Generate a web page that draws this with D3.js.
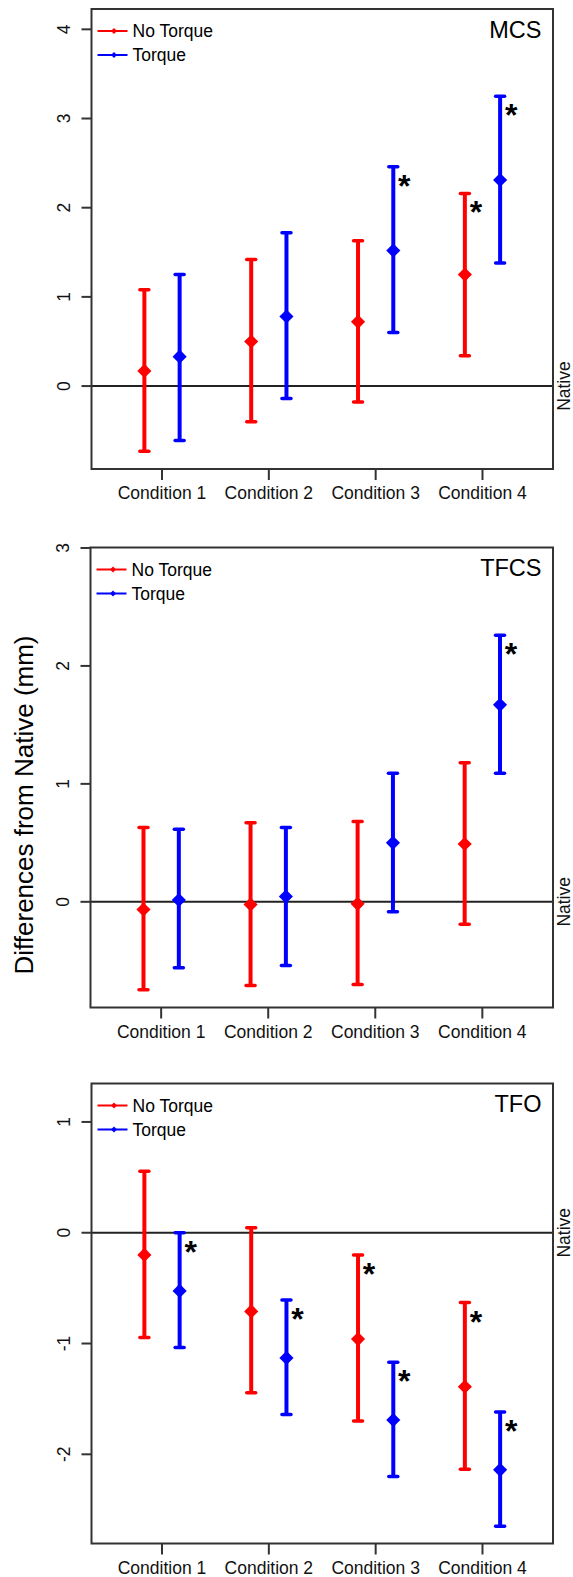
<!DOCTYPE html>
<html lang="en">
<head>
    <meta charset="UTF-8">
    <title>Differences from Native: MCS, TFCS, TFO</title>
    <script src="https://d3js.org/d3.v7.min.js"></script>
    <style>
        body { margin: 0; background: #fff; }
        svg { display: block; font-family: "Liberation Sans", Arial, sans-serif; }
        .box { fill: none; stroke: #333; stroke-width: 2; }
        .tick-line { stroke: #333; stroke-width: 2; }
        .tick-label { font-size: 17.5px; fill: #111; }
    </style>
</head>
<body>
    <div id="chart"></div>
    <script>
        // categories and labels
        const conditions = ["Condition 1", "Condition 2", "Condition 3", "Condition 4"];
        const seriesNames = ["No Torque", "Torque"];
        const seriesColors = ["#ff0000", "#0000ff"];
        const panelNames = ["MCS", "TFCS", "TFO"];

        // y tick labels per panel
        const mcsTicks = [0, 1, 2, 3, 4];
        const tfcsTicks = [0, 1, 2, 3];
        const tfoTicks = [-2, -1, 0, 1];

        // MCS
        const mcsNoTorqueMean = [0.17, 0.50, 0.72, 1.25];
        const mcsNoTorqueLow  = [-0.73, -0.40, -0.18, 0.34];
        const mcsNoTorqueHigh = [1.08, 1.42, 1.63, 2.16];
        const mcsNoTorqueSig  = [false, false, false, true];
        const mcsTorqueMean = [0.33, 0.78, 1.52, 2.31];
        const mcsTorqueLow  = [-0.61, -0.14, 0.60, 1.38];
        const mcsTorqueHigh = [1.25, 1.72, 2.46, 3.25];
        const mcsTorqueSig  = [false, false, true, true];

        // TFCS
        const tfcsNoTorqueMean = [-0.065, -0.023, -0.017, 0.49];
        const tfcsNoTorqueLow  = [-0.745, -0.71, -0.70, -0.19];
        const tfcsNoTorqueHigh = [0.63, 0.67, 0.68, 1.18];
        const tfcsNoTorqueSig  = [false, false, false, false];
        const tfcsTorqueMean = [0.015, 0.045, 0.50, 1.67];
        const tfcsTorqueLow  = [-0.56, -0.54, -0.085, 1.09];
        const tfcsTorqueHigh = [0.615, 0.63, 1.09, 2.26];
        const tfcsTorqueSig  = [false, false, false, true];

        // TFO
        const tfoNoTorqueMean = [-0.20, -0.71, -0.96, -1.39];
        const tfoNoTorqueLow  = [-0.945, -1.445, -1.70, -2.135];
        const tfoNoTorqueHigh = [0.555, 0.045, -0.20, -0.63];
        const tfoNoTorqueSig  = [false, false, true, true];
        const tfoTorqueMean = [-0.525, -1.13, -1.69, -2.14];
        const tfoTorqueLow  = [-1.035, -1.64, -2.20, -2.65];
        const tfoTorqueHigh = [0.0, -0.607, -1.17, -1.617];
        const tfoTorqueSig  = [true, true, true, true];

        const W = 573, H = 1577;
        const boxRight = 553, boxHeight = 460;

        const panels = [
            { name: panelNames[0], top: 9, left: 91.5, ticks: mcsTicks, domain: [-0.93, 4.228],
              series: [
                { mean: mcsNoTorqueMean, low: mcsNoTorqueLow, high: mcsNoTorqueHigh, sig: mcsNoTorqueSig },
                { mean: mcsTorqueMean, low: mcsTorqueLow, high: mcsTorqueHigh, sig: mcsTorqueSig }
              ] },
            { name: panelNames[1], top: 547.5, left: 90.5, ticks: tfcsTicks, domain: [-0.896, 3.004],
              series: [
                { mean: tfcsNoTorqueMean, low: tfcsNoTorqueLow, high: tfcsNoTorqueHigh, sig: tfcsNoTorqueSig },
                { mean: tfcsTorqueMean, low: tfcsTorqueLow, high: tfcsTorqueHigh, sig: tfcsTorqueSig }
              ] },
            { name: panelNames[2], top: 1083.5, left: 91.5, ticks: tfoTicks, domain: [-2.805, 1.347],
              series: [
                { mean: tfoNoTorqueMean, low: tfoNoTorqueLow, high: tfoNoTorqueHigh, sig: tfoNoTorqueSig },
                { mean: tfoTorqueMean, low: tfoTorqueLow, high: tfoTorqueHigh, sig: tfoTorqueSig }
              ] }
        ];

        const svg = d3.select("#chart")
            .append("svg")
            .attr("width", W)
            .attr("height", H);

        const offsets = [-0.165, 0.165];
        const diamond = d3.symbol().type(d3.symbolSquare).size(100);

        panels.forEach(p => {
            const width = boxRight - p.left;
            const g = svg.append("g")
                .attr("transform", `translate(${p.left},${p.top})`);

            const x = d3.scaleLinear().domain([0.34, 4.66]).range([0, width]);
            const y = d3.scaleLinear().domain(p.domain).range([boxHeight, 0]);

            // y ticks (rotated labels like base R)
            g.selectAll(".ytick")
                .data(p.ticks)
                .enter().append("line")
                .attr("class", "tick-line")
                .attr("x1", -10).attr("x2", 0)
                .attr("y1", d => y(d)).attr("y2", d => y(d));

            g.selectAll(".ylab")
                .data(p.ticks)
                .enter().append("text")
                .attr("class", "tick-label")
                .attr("text-anchor", "middle")
                .attr("transform", d => `translate(-22,${y(d)}) rotate(-90)`)
                .text(d => d);

            // x ticks
            g.selectAll(".xtick")
                .data(conditions)
                .enter().append("line")
                .attr("class", "tick-line")
                .attr("x1", (d, i) => x(i + 1)).attr("x2", (d, i) => x(i + 1))
                .attr("y1", boxHeight).attr("y2", boxHeight + 11);

            g.selectAll(".xlab")
                .data(conditions)
                .enter().append("text")
                .attr("class", "tick-label")
                .attr("text-anchor", "middle")
                .attr("x", (d, i) => x(i + 1))
                .attr("y", boxHeight + 30)
                .text(d => d);

            // reference line at Native
            g.append("line")
                .attr("x1", 0).attr("x2", width)
                .attr("y1", y(0)).attr("y2", y(0))
                .attr("stroke", "#222").attr("stroke-width", 2);

            g.append("text")
                .attr("class", "tick-label")
                .attr("text-anchor", "middle")
                .attr("transform", `translate(${width + 16.5},${y(0)}) rotate(-90)`)
                .text("Native");

            g.append("rect")
                .attr("class", "box")
                .attr("width", width)
                .attr("height", boxHeight);

            // panel name
            g.append("text")
                .attr("x", width - 11.5)
                .attr("y", 28.5)
                .attr("text-anchor", "end")
                .attr("font-size", 23.5)
                .text(p.name);

            // legend
            const legend = g.append("g").attr("transform", "translate(6,22)");
            seriesNames.forEach((s, k) => {
                const ly = k * 24;
                legend.append("line")
                    .attr("x1", 0).attr("x2", 30)
                    .attr("y1", ly).attr("y2", ly)
                    .attr("stroke", seriesColors[k]).attr("stroke-width", 2);
                legend.append("path")
                    .attr("d", d3.symbol().type(d3.symbolSquare).size(18)())
                    .attr("transform", `translate(16.5,${ly}) rotate(45)`)
                    .attr("fill", seriesColors[k]);
                legend.append("text")
                    .attr("x", 35)
                    .attr("y", ly + 6.3)
                    .attr("font-size", 17.5)
                    .text(s);
            });

            // error bars
            p.series.forEach((s, k) => {
                const color = seriesColors[k];
                const bars = g.append("g");
                const cx = i => x(i + 1 + offsets[k]);

                conditions.forEach((c, i) => {
                    bars.append("line")
                        .attr("x1", cx(i)).attr("x2", cx(i))
                        .attr("y1", y(s.low[i])).attr("y2", y(s.high[i]))
                        .attr("stroke", color).attr("stroke-width", 4);
                    [s.low[i], s.high[i]].forEach(v => {
                        bars.append("line")
                            .attr("x1", cx(i) - 4.5).attr("x2", cx(i) + 4.5)
                            .attr("y1", y(v)).attr("y2", y(v))
                            .attr("stroke", color).attr("stroke-width", 3.5)
                            .attr("stroke-linecap", "round");
                    });
                    bars.append("path")
                        .attr("d", diamond())
                        .attr("transform", `translate(${cx(i)},${y(s.mean[i])}) rotate(45)`)
                        .attr("fill", color);
                    if (s.sig[i]) {
                        bars.append("text")
                            .attr("x", cx(i) + 11)
                            .attr("y", y(s.high[i]) + 30)
                            .attr("text-anchor", "middle")
                            .attr("font-size", 32)
                            .attr("font-weight", "bold")
                            .text("*");
                    }
                });
            });
        });

        // shared y axis title
        svg.append("text")
            .attr("text-anchor", "middle")
            .attr("font-size", 26)
            .attr("transform", "translate(33,805) rotate(-90)")
            .text("Differences from Native (mm)");
    </script>
</body>
</html>
